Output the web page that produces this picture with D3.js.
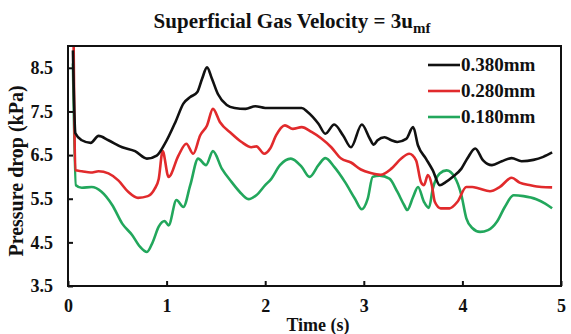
<!DOCTYPE html>
<html>
<head>
<meta charset="utf-8">
<script src="https://cdn.jsdelivr.net/npm/d3@7"></script>
<style>
  body { margin: 0; background: #fff; }
  svg text { font-family: "Liberation Serif", serif; font-weight: bold; fill: #111; }
</style>
</head>
<body>
<svg id="chart" width="571" height="334"></svg>
<script>
// time (s) and pressure drop (kPa)
const time380 = [0.05, 0.075, 0.14, 0.23, 0.31, 0.41, 0.55, 0.68, 0.80, 0.90, 0.98, 1.09, 1.17, 1.24, 1.31, 1.36, 1.41, 1.46, 1.52, 1.61, 1.69, 1.80, 1.90, 2.00, 2.20, 2.37, 2.43, 2.54, 2.61, 2.70, 2.79, 2.87, 2.98, 3.06, 3.10, 3.14, 3.21, 3.28, 3.34, 3.43, 3.50, 3.55, 3.63, 3.70, 3.77, 3.83, 3.90, 3.99, 4.05, 4.13, 4.21, 4.30, 4.40, 4.50, 4.60, 4.72, 4.82, 4.91];
const p380 = [8.9, 7.0, 6.84, 6.78, 6.94, 6.84, 6.68, 6.59, 6.42, 6.49, 6.75, 7.26, 7.68, 7.83, 7.94, 8.25, 8.51, 8.25, 7.90, 7.65, 7.58, 7.56, 7.62, 7.58, 7.58, 7.58, 7.49, 7.22, 6.99, 7.20, 6.95, 6.68, 7.20, 6.88, 6.74, 6.84, 6.91, 6.84, 6.80, 6.87, 7.14, 6.72, 6.42, 6.15, 5.81, 5.88, 6.00, 6.19, 6.42, 6.65, 6.38, 6.27, 6.36, 6.43, 6.36, 6.39, 6.46, 6.56];

const time280 = [0.055, 0.075, 0.14, 0.23, 0.31, 0.41, 0.51, 0.61, 0.71, 0.81, 0.88, 0.92, 0.96, 1.02, 1.12, 1.20, 1.27, 1.34, 1.41, 1.47, 1.54, 1.66, 1.76, 1.86, 1.91, 1.99, 2.05, 2.11, 2.20, 2.28, 2.37, 2.47, 2.57, 2.67, 2.77, 2.87, 2.97, 3.07, 3.17, 3.28, 3.38, 3.46, 3.53, 3.58, 3.61, 3.65, 3.69, 3.72, 3.78, 3.87, 3.95, 4.04, 4.10, 4.16, 4.28, 4.38, 4.50, 4.58, 4.69, 4.80, 4.91];
const p280 = [9.6, 6.15, 6.13, 6.10, 6.13, 6.08, 5.92, 5.66, 5.52, 5.56, 5.73, 5.95, 6.59, 6.00, 6.49, 6.76, 6.53, 6.95, 7.18, 7.56, 7.26, 6.99, 6.80, 6.68, 6.70, 6.53, 6.65, 6.95, 7.18, 7.10, 7.14, 7.03, 6.88, 6.68, 6.42, 6.33, 6.17, 6.09, 6.05, 6.19, 6.42, 6.53, 6.38, 5.88, 5.81, 6.04, 5.81, 5.43, 5.28, 5.28, 5.43, 5.77, 5.77, 5.74, 5.67, 5.77, 5.98, 5.87, 5.81, 5.77, 5.76];

const time180 = [0.05, 0.08, 0.14, 0.24, 0.34, 0.45, 0.55, 0.65, 0.73, 0.80, 0.86, 0.92, 0.98, 1.02, 1.10, 1.17, 1.24, 1.32, 1.40, 1.47, 1.56, 1.66, 1.74, 1.83, 1.91, 2.00, 2.06, 2.15, 2.26, 2.37, 2.45, 2.54, 2.61, 2.70, 2.81, 2.91, 2.98, 3.04, 3.09, 3.16, 3.26, 3.34, 3.41, 3.44, 3.50, 3.55, 3.61, 3.66, 3.70, 3.77, 3.84, 3.92, 3.99, 4.04, 4.10, 4.18, 4.26, 4.35, 4.43, 4.52, 4.62, 4.75, 4.84, 4.91];
const p180 = [8.6, 5.81, 5.75, 5.77, 5.66, 5.35, 4.93, 4.67, 4.40, 4.28, 4.51, 4.86, 4.99, 4.89, 5.47, 5.31, 5.81, 6.42, 6.27, 6.59, 6.19, 5.88, 5.66, 5.49, 5.58, 5.81, 5.95, 6.27, 6.42, 6.23, 6.00, 6.27, 6.43, 6.23, 5.88, 5.50, 5.26, 5.50, 6.00, 6.03, 5.96, 5.66, 5.35, 5.24, 5.54, 5.77, 5.43, 5.29, 5.73, 6.08, 6.15, 6.00, 5.58, 5.05, 4.83, 4.74, 4.78, 4.97, 5.31, 5.58, 5.56, 5.49, 5.39, 5.28];

const seriesNames = ['0.380mm', '0.280mm', '0.180mm'];
const seriesColors = ['#111111', '#e12a2c', '#22a75c'];
const xTicks = [0, 1, 2, 3, 4, 5];
const yTicks = [3.5, 4.5, 5.5, 6.5, 7.5, 8.5];

const series = [
  { name: seriesNames[0], color: seriesColors[0], t: time380, p: p380 },
  { name: seriesNames[1], color: seriesColors[1], t: time280, p: p280 },
  { name: seriesNames[2], color: seriesColors[2], t: time180, p: p180 },
];

const svg = d3.select('#chart');
const margin = { left: 68, right: 10, top: 46, bottom: 48 };
const width = 571, height = 334;

const x = d3.scaleLinear().domain([0, 5]).range([margin.left, width - margin.right]);
const y = d3.scaleLinear().domain([3.5, 9]).range([height - margin.bottom, margin.top]);

// clip so the start-up spike is cut at the frame
svg.append('clipPath').attr('id', 'plot-clip')
  .append('rect')
  .attr('x', x(0)).attr('y', y(9))
  .attr('width', x(5) - x(0)).attr('height', y(3.5) - y(9));

const line = d3.line()
  .x((d) => x(d[0]))
  .y((d) => y(d[1]))
  .curve(d3.curveMonotoneX);

const plot = svg.append('g').attr('clip-path', 'url(#plot-clip)');
// draw green first so black sits on top
series.slice().reverse().forEach((s) => {
  plot.append('path')
    .datum(s.t.map((t, i) => [t, s.p[i]]))
    .attr('d', line)
    .attr('fill', 'none')
    .attr('stroke', s.color)
    .attr('stroke-width', 2.6)
    .attr('stroke-linejoin', 'round');
});

// frame
svg.append('rect')
  .attr('x', x(0)).attr('y', y(9))
  .attr('width', x(5) - x(0)).attr('height', y(3.5) - y(9))
  .attr('fill', 'none')
  .attr('stroke', '#111')
  .attr('stroke-width', 2);

// axes with inward ticks
const xAxis = svg.append('g')
  .attr('transform', `translate(0,${y(3.5)})`)
  .call(d3.axisBottom(x).tickValues(xTicks).tickSize(-5).tickPadding(13).tickFormat(d3.format('d')));
const yAxis = svg.append('g')
  .attr('transform', `translate(${x(0)},0)`)
  .call(d3.axisLeft(y).tickValues(yTicks).tickSize(-5).tickPadding(15).tickFormat(d3.format('.1f')));

[xAxis, yAxis].forEach((g) => {
  g.select('.domain').remove();
  g.selectAll('.tick line').attr('stroke', '#111').attr('stroke-width', 2);
  g.selectAll('.tick text').style('font-size', '18px');
});

// title
const title = svg.append('text')
  .attr('x', 292)
  .attr('y', 28)
  .attr('text-anchor', 'middle')
  .style('font-size', '21px');
title.append('tspan').text('Superficial Gas Velocity = 3u');
title.append('tspan').attr('dy', 5).style('font-size', '15px').text('mf');

// axis titles
svg.append('text')
  .attr('x', 318)
  .attr('y', 331)
  .attr('text-anchor', 'middle')
  .style('font-size', '18px')
  .text('Time (s)');

svg.append('text')
  .attr('transform', 'translate(23,171) rotate(-90)')
  .attr('text-anchor', 'middle')
  .style('font-size', '20px')
  .text('Pressure drop (kPa)');

// legend
const legend = svg.append('g').attr('transform', 'translate(428,65)');
series.forEach((s, i) => {
  const row = legend.append('g').attr('transform', `translate(0,${i * 26})`);
  row.append('line')
    .attr('x1', 0).attr('x2', 32)
    .attr('stroke', s.color)
    .attr('stroke-width', 2.6);
  row.append('text')
    .attr('x', 33)
    .attr('y', 6)
    .style('font-size', '19px')
    .text(s.name);
});
</script>
</body>
</html>
